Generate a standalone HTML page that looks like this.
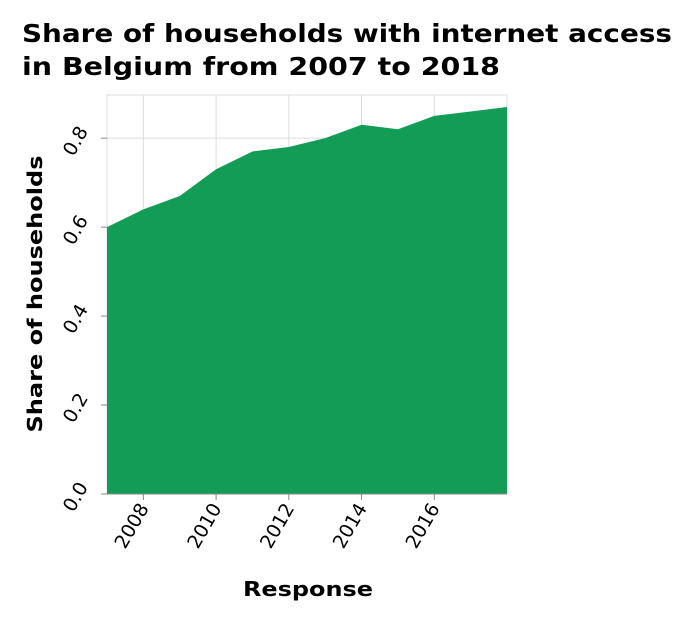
<!DOCTYPE html>
<html><head><meta charset="utf-8"><style>
body{margin:0;background:#fff;font-family:"DejaVu Sans","Liberation Sans",sans-serif;}
</style></head><body>
<svg width="692" height="620" font-family="DejaVu Sans, Liberation Sans, sans-serif">
<text x="22" y="42" font-size="25" font-weight="bold" fill="#000" textLength="650" lengthAdjust="spacingAndGlyphs">Share of households with internet access</text>
<text x="22" y="75" font-size="25" font-weight="bold" fill="#000" textLength="478" lengthAdjust="spacingAndGlyphs">in Belgium from 2007 to 2018</text>
<g id="grid"></g>
<path id="area" fill="#129c56"></path>
<g id="axes"></g>
<text x="308" y="596" font-size="20" font-weight="bold" text-anchor="middle" textLength="130" lengthAdjust="spacingAndGlyphs">Response</text>
<text transform="translate(42,294) rotate(-90)" font-size="20" font-weight="bold" text-anchor="middle" textLength="277" lengthAdjust="spacingAndGlyphs">Share of households</text>
</svg>
<script>
const years=[2007,2008,2009,2010,2011,2012,2013,2014,2015,2016,2017,2018];
const shares=[0.60,0.64,0.67,0.73,0.77,0.78,0.80,0.83,0.82,0.85,0.86,0.87];
const xTicks=[2008,2010,2012,2014,2016];
const yTicks=[0,0.2,0.4,0.6,0.8];
const L=107,R=507,T=95,B=494,yMax=0.897;
const x=v=>L+(v-2007)/(2018-2007)*(R-L);
const y=v=>B-v/yMax*(B-T);
const ns="http://www.w3.org/2000/svg";
const grid=document.getElementById('grid'),axes=document.getElementById('axes');
function mk(tag,attrs,parent){const e=document.createElementNS(ns,tag);for(const k in attrs)e.setAttribute(k,attrs[k]);parent.appendChild(e);return e;}
const bg=mk('rect',{x:L,y:T,width:R-L,height:B-T,fill:'#fff',stroke:'#ddd'},grid);


xTicks.forEach(t=>{const g=mk('line',{x1:x(t),x2:x(t),y1:T,y2:B,stroke:'#ddd'},grid);


const tk=mk('line',{x1:x(t),x2:x(t),y1:B,y2:B+6,stroke:'#888'},axes);


const lb=mk('text',{transform:`translate(${x(t)+6},${B+14}) rotate(-60)`,'font-size':19,'text-anchor':'end'},axes);
lb.textContent=t;

});
yTicks.forEach(t=>{const g=mk('line',{x1:L,x2:R,y1:y(t),y2:y(t),stroke:'#ddd'},grid);


const tk=mk('line',{x1:L-6,x2:L,y1:y(t),y2:y(t),stroke:'#888'},axes);


const lb=mk('text',{transform:`translate(${L-26},${y(t)+6}) rotate(-60)`,'font-size':19,'text-anchor':'middle'},axes);
lb.textContent=t.toFixed(1);

});
let d=`M${x(years[0])},${y(0)}`;
years.forEach((yr,i)=>{d+=`L${x(yr)},${y(shares[i])}`;});
d+=`L${x(years[years.length-1])},${y(0)}Z`;
document.getElementById('area').setAttribute('d',d);
const ax=mk('line',{x1:L,x2:R,y1:B,y2:B,stroke:'#888'},axes);


</script>
</body></html>
